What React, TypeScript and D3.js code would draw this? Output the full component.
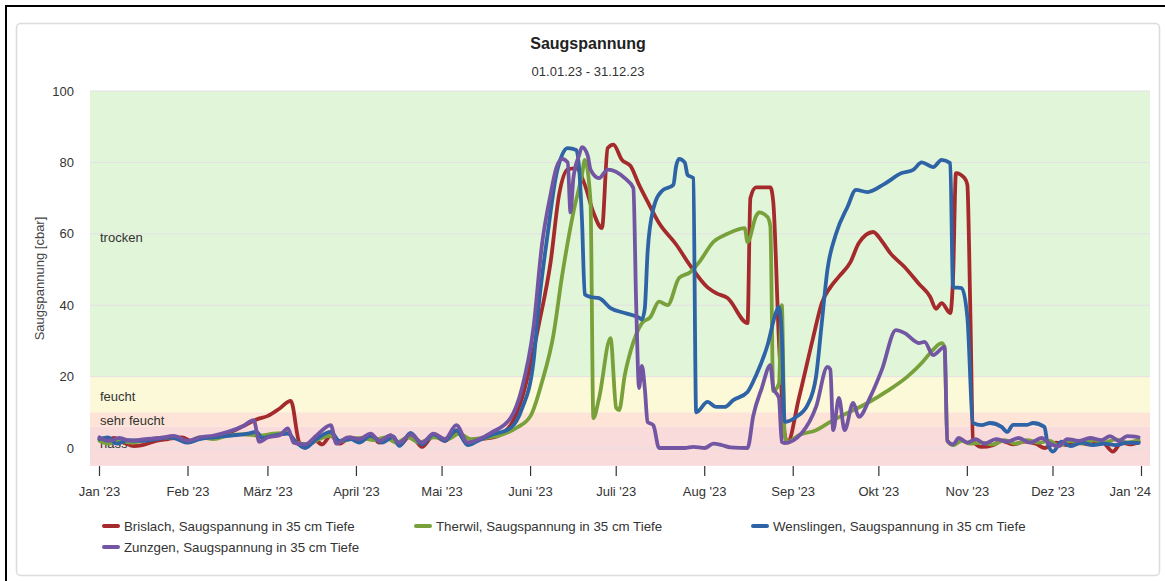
import React from "react";
import * as d3 from "d3";

type P = [string, number];

const title = "Saugspannung";
const subtitle = "01.01.23 - 31.12.23";
const yTitle = "Saugspannung [cbar]";
const yTicks = [0, 20, 40, 60, 80, 100];
const monthLabels = ["Jan '23", "Feb '23", "März '23", "April '23", "Mai '23", "Juni '23", "Juli '23", "Aug '23", "Sep '23", "Okt '23", "Nov '23", "Dez '23", "Jan '24"];

const bands = [
  { name: "trocken", from: 20, to: 100, color: "#e1f5d9", labelAt: 59 },
  { name: "feucht", from: 10, to: 20, color: "#fbf9d7", labelAt: 14.3 },
  { name: "sehr feucht", from: 6, to: 10, color: "#fde4d7", labelAt: 7.8 },
  { name: "nass", from: -5, to: 6, color: "#f9dbdb", labelAt: 1.3 },
];

const brislach: P[] = [
  ["2023-01-01", 2.5], ["2023-01-03", 2], ["2023-01-06", 2.8], ["2023-01-09", 1.8], ["2023-01-13", 0.5], ["2023-01-16", 0.8],
  ["2023-01-20", 1.8], ["2023-01-25", 2.5], ["2023-01-30", 3], ["2023-02-02", 2], ["2023-02-06", 2.8], ["2023-02-11", 3.2],
  ["2023-02-16", 4.5], ["2023-02-20", 6], ["2023-02-25", 8], ["2023-03-01", 9], ["2023-03-05", 11], ["2023-03-09", 13.2],
  ["2023-03-12", 1.5], ["2023-03-14", 0.3], ["2023-03-17", 2.5], ["2023-03-20", 1], ["2023-03-23", 3.5], ["2023-03-26", 1.2],
  ["2023-03-30", 3], ["2023-04-02", 2], ["2023-04-06", 3.5], ["2023-04-09", 1.5], ["2023-04-13", 3.5], ["2023-04-16", 0.8],
  ["2023-04-20", 3.5], ["2023-04-24", 0.3], ["2023-04-28", 3.5], ["2023-05-02", 2], ["2023-05-06", 4.5], ["2023-05-10", 1.5],
  ["2023-05-14", 2.5], ["2023-05-18", 2.8], ["2023-05-22", 4], ["2023-05-25", 6.4], ["2023-05-29", 14], ["2023-06-04", 35],
  ["2023-06-08", 52], ["2023-06-11", 71], ["2023-06-14", 78], ["2023-06-17", 78.4], ["2023-06-20", 73.7], ["2023-06-23", 66],
  ["2023-06-26", 61.6], ["2023-06-28", 84], ["2023-06-30", 85], ["2023-07-03", 80.7], ["2023-07-06", 79], ["2023-07-09", 73.7],
  ["2023-07-12", 69], ["2023-07-16", 63], ["2023-07-22", 57], ["2023-07-27", 51], ["2023-08-02", 45], ["2023-08-05", 43.4],
  ["2023-08-09", 42], ["2023-08-16", 35], ["2023-08-17", 70], ["2023-08-19", 73], ["2023-08-24", 73], ["2023-08-25", 69],
  ["2023-08-27", 30], ["2023-08-29", 4], ["2023-08-30", 1.5], ["2023-09-03", 14], ["2023-09-08", 31], ["2023-09-11", 40.6],
  ["2023-09-14", 45], ["2023-09-17", 48], ["2023-09-21", 52], ["2023-09-24", 57.4], ["2023-09-29", 60.5], ["2023-10-02", 58],
  ["2023-10-05", 54.6], ["2023-10-10", 50.7], ["2023-10-15", 46], ["2023-10-19", 42.3], ["2023-10-21", 39], ["2023-10-23", 40.6],
  ["2023-10-26", 37.8], ["2023-10-27", 48], ["2023-10-28", 77], ["2023-10-31", 75.6], ["2023-11-01", 73.7], ["2023-11-02", 40],
  ["2023-11-03", 2], ["2023-11-06", 0.3], ["2023-11-10", 0.8], ["2023-11-13", 2], ["2023-11-17", 1], ["2023-11-21", 1.8],
  ["2023-11-25", 1.2], ["2023-11-28", 0], ["2023-12-02", 1.5], ["2023-12-06", 0.8], ["2023-12-10", 1.5], ["2023-12-14", 1],
  ["2023-12-18", 1.8], ["2023-12-22", -1], ["2023-12-25", 1.5], ["2023-12-28", 1], ["2023-12-31", 1.7],
];

const therwil: P[] = [
  ["2023-01-01", 2], ["2023-01-04", 1.2], ["2023-01-08", 2], ["2023-01-12", 1.5], ["2023-01-17", 2.2], ["2023-01-22", 2.8],
  ["2023-01-27", 3], ["2023-02-01", 1.8], ["2023-02-05", 3], ["2023-02-10", 2.5], ["2023-02-15", 3.5], ["2023-02-20", 3.8],
  ["2023-02-26", 3.5], ["2023-03-03", 4], ["2023-03-08", 4.2], ["2023-03-11", 1.5], ["2023-03-15", 1], ["2023-03-19", 2.5],
  ["2023-03-23", 3.5], ["2023-03-26", 1.8], ["2023-03-30", 2.5], ["2023-04-03", 2.8], ["2023-04-07", 2.2], ["2023-04-11", 3],
  ["2023-04-15", 1.5], ["2023-04-19", 3], ["2023-04-23", 1.5], ["2023-04-28", 3], ["2023-05-03", 2.5], ["2023-05-07", 4],
  ["2023-05-11", 2.5], ["2023-05-16", 2.8], ["2023-05-21", 3.5], ["2023-05-27", 5.6], ["2023-06-01", 9], ["2023-06-05", 18.5],
  ["2023-06-09", 31.6], ["2023-06-12", 48], ["2023-06-16", 66], ["2023-06-19", 76.5], ["2023-06-20", 80.7], ["2023-06-22", 69],
  ["2023-06-23", 8.4], ["2023-06-25", 14], ["2023-06-29", 30.8], ["2023-07-01", 11.2], ["2023-07-02", 10.6], ["2023-07-04", 20.4],
  ["2023-07-06", 27], ["2023-07-10", 35], ["2023-07-13", 36.7], ["2023-07-16", 41], ["2023-07-19", 40], ["2023-07-23", 47.6],
  ["2023-07-27", 49.3], ["2023-07-30", 52], ["2023-08-04", 57.7], ["2023-08-09", 60], ["2023-08-15", 61.6], ["2023-08-16", 57.7],
  ["2023-08-19", 65], ["2023-08-20", 66], ["2023-08-23", 64.7], ["2023-08-24", 62], ["2023-08-25", 16], ["2023-08-27", 18],
  ["2023-08-28", 40], ["2023-08-29", 3.6], ["2023-08-30", 1.7], ["2023-09-03", 3.6], ["2023-09-09", 5], ["2023-09-15", 7.8],
  ["2023-09-20", 9.8], ["2023-09-27", 12.6], ["2023-10-04", 16], ["2023-10-11", 20], ["2023-10-16", 23.8], ["2023-10-19", 26.6],
  ["2023-10-23", 29.4], ["2023-10-24", 28.3], ["2023-10-25", 2], ["2023-10-27", 0.8], ["2023-10-30", 2], ["2023-11-02", 1.2],
  ["2023-11-06", 1.5], ["2023-11-10", 1], ["2023-11-14", 2.2], ["2023-11-18", 1.2], ["2023-11-22", 2.2], ["2023-11-26", 1.5],
  ["2023-11-30", 2], ["2023-12-03", 0.6], ["2023-12-07", 2], ["2023-12-11", 1.2], ["2023-12-15", 2.2], ["2023-12-19", 1.5],
  ["2023-12-23", 2.4], ["2023-12-27", 1.5], ["2023-12-31", 2.2],
];

const wenslingen: P[] = [
  ["2023-01-01", 2.5], ["2023-01-04", 3], ["2023-01-07", 1.2], ["2023-01-11", 2.2], ["2023-01-16", 2], ["2023-01-21", 2.5],
  ["2023-01-26", 3], ["2023-02-01", 1.5], ["2023-02-05", 2.5], ["2023-02-10", 3], ["2023-02-16", 3.5], ["2023-02-22", 4],
  ["2023-02-25", 4.5], ["2023-02-27", 2.8], ["2023-03-03", 3.5], ["2023-03-08", 4], ["2023-03-11", 1.5], ["2023-03-14", 0],
  ["2023-03-18", 2.5], ["2023-03-23", 4.5], ["2023-03-26", 2], ["2023-03-30", 2.5], ["2023-04-02", 1.5], ["2023-04-06", 3.5],
  ["2023-04-10", 1.5], ["2023-04-14", 3.2], ["2023-04-16", 0.6], ["2023-04-20", 4.2], ["2023-04-24", 1], ["2023-04-28", 3.8],
  ["2023-05-02", 2], ["2023-05-06", 5], ["2023-05-10", 0.8], ["2023-05-14", 2.2], ["2023-05-18", 3.6], ["2023-05-25", 5.6],
  ["2023-05-29", 11], ["2023-06-02", 24], ["2023-06-04", 41], ["2023-06-07", 60], ["2023-06-10", 76.5], ["2023-06-12", 82],
  ["2023-06-14", 84], ["2023-06-17", 83.5], ["2023-06-18", 78.4], ["2023-06-19", 64], ["2023-06-20", 43], ["2023-06-22", 42.3],
  ["2023-06-25", 42], ["2023-06-29", 39.2], ["2023-07-04", 37.8], ["2023-07-09", 36.5], ["2023-07-10", 36], ["2023-07-11", 39],
  ["2023-07-12", 55], ["2023-07-14", 67], ["2023-07-17", 72], ["2023-07-21", 73.7], ["2023-07-22", 79], ["2023-07-23", 81],
  ["2023-07-25", 80], ["2023-07-26", 76.5], ["2023-07-28", 75.6], ["2023-07-29", 10], ["2023-08-02", 12.9], ["2023-08-05", 11.5],
  ["2023-08-08", 11.5], ["2023-08-11", 13.4], ["2023-08-16", 15.7], ["2023-08-19", 20.4], ["2023-08-23", 28.8], ["2023-08-26", 38],
  ["2023-08-27", 39.5], ["2023-08-28", 31.6], ["2023-08-29", 7.3], ["2023-09-02", 8.7], ["2023-09-06", 12], ["2023-09-09", 20],
  ["2023-09-11", 35], ["2023-09-13", 50], ["2023-09-16", 60], ["2023-09-20", 67.5], ["2023-09-23", 72.3], ["2023-09-27", 71.7],
  ["2023-10-03", 74], ["2023-10-09", 77], ["2023-10-13", 77.9], ["2023-10-16", 80], ["2023-10-20", 78.7], ["2023-10-23", 80.7],
  ["2023-10-26", 79.8], ["2023-10-27", 45], ["2023-10-30", 44.8], ["2023-11-01", 36.7], ["2023-11-03", 7], ["2023-11-06", 6.4],
  ["2023-11-09", 7], ["2023-11-13", 5.9], ["2023-11-15", 4.5], ["2023-11-17", 6.5], ["2023-11-22", 6.5], ["2023-11-24", 7],
  ["2023-11-28", 5.9], ["2023-11-29", 1.7], ["2023-12-01", -1], ["2023-12-04", 1.8], ["2023-12-07", 0.5], ["2023-12-11", 1.5],
  ["2023-12-15", 0.8], ["2023-12-19", 1.2], ["2023-12-23", 0.8], ["2023-12-27", 1.5], ["2023-12-31", 1.4],
];

const zunzgen: P[] = [
  ["2023-01-01", 3], ["2023-01-04", 2], ["2023-01-08", 2.8], ["2023-01-12", 2], ["2023-01-17", 2.5], ["2023-01-22", 2.8],
  ["2023-01-27", 3.4], ["2023-02-01", 2], ["2023-02-05", 3], ["2023-02-10", 3.5], ["2023-02-15", 4.5], ["2023-02-20", 6],
  ["2023-02-24", 7.8], ["2023-02-26", 1.7], ["2023-03-01", 3], ["2023-03-05", 3.5], ["2023-03-08", 5.5], ["2023-03-10", 1.5],
  ["2023-03-14", 1], ["2023-03-18", 3.5], ["2023-03-23", 6.4], ["2023-03-25", 1.2], ["2023-03-29", 3], ["2023-04-02", 2.5],
  ["2023-04-06", 4], ["2023-04-09", 2], ["2023-04-13", 3.5], ["2023-04-16", 1.5], ["2023-04-20", 3.8], ["2023-04-24", 1.5],
  ["2023-04-28", 4], ["2023-05-02", 2.5], ["2023-05-06", 6.4], ["2023-05-10", 1.5], ["2023-05-14", 2.5], ["2023-05-18", 4.2],
  ["2023-05-25", 8.4], ["2023-05-29", 16.8], ["2023-06-02", 33.6], ["2023-06-05", 57], ["2023-06-08", 71], ["2023-06-10", 78.4],
  ["2023-06-12", 81], ["2023-06-14", 80], ["2023-06-15", 66], ["2023-06-16", 75.6], ["2023-06-18", 82], ["2023-06-19", 84.3],
  ["2023-06-21", 82], ["2023-06-22", 78], ["2023-06-25", 75.6], ["2023-06-28", 78], ["2023-07-04", 75.6], ["2023-07-07", 72.8],
  ["2023-07-08", 40], ["2023-07-09", 16.8], ["2023-07-10", 23], ["2023-07-11", 16.8], ["2023-07-12", 7.3], ["2023-07-14", 6.4],
  ["2023-07-16", 0], ["2023-07-25", 0], ["2023-07-28", 0.3], ["2023-08-01", 0], ["2023-08-04", 1.2], ["2023-08-07", 0.8],
  ["2023-08-10", 0.2], ["2023-08-16", 0], ["2023-08-18", 9], ["2023-08-21", 16.8], ["2023-08-24", 23.2], ["2023-08-25", 16.8],
  ["2023-08-27", 14], ["2023-08-28", 1.7], ["2023-08-29", 1.4], ["2023-09-04", 4.2], ["2023-09-09", 11.5], ["2023-09-13", 22.7],
  ["2023-09-14", 22], ["2023-09-15", 5], ["2023-09-17", 14], ["2023-09-19", 5], ["2023-09-22", 12.6], ["2023-09-24", 8.7],
  ["2023-09-28", 14.3], ["2023-10-02", 21.8], ["2023-10-07", 33], ["2023-10-10", 32.2], ["2023-10-15", 29.4], ["2023-10-17", 29.7],
  ["2023-10-20", 26], ["2023-10-24", 28.3], ["2023-10-25", 2], ["2023-10-27", 1], ["2023-10-29", 2.8], ["2023-11-01", 1.5],
  ["2023-11-04", 2.5], ["2023-11-07", 1.2], ["2023-11-11", 2.5], ["2023-11-15", 1.8], ["2023-11-19", 2.8], ["2023-11-23", 1.5],
  ["2023-11-27", 2.8], ["2023-11-30", 1.2], ["2023-12-03", 0.5], ["2023-12-06", 2.5], ["2023-12-10", 2], ["2023-12-14", 2.8],
  ["2023-12-18", 2.2], ["2023-12-21", 3.3], ["2023-12-24", 2], ["2023-12-27", 3.3], ["2023-12-31", 3],
];

const seriesNames = [
  "Brislach, Saugspannung in 35 cm Tiefe",
  "Therwil, Saugspannung in 35 cm Tiefe",
  "Wenslingen, Saugspannung in 35 cm Tiefe",
  "Zunzgen, Saugspannung in 35 cm Tiefe",
];
const seriesColors = ["#a52a2c", "#79a13b", "#2e63a6", "#7356a3"];
const seriesData = [brislach, therwil, wenslingen, zunzgen];

const W = 1165;
const H = 581;
const FONT = "'Liberation Sans', Arial, Helvetica, sans-serif";

export default function App() {
  const parse = d3.timeParse("%Y-%m-%d");
  const plotL = 90, plotR = 1150, plotT = 91, plotB = 466;
  const x = d3.scaleTime()
    .domain([parse("2023-01-01")!, parse("2024-01-01")!])
    .range([99.5, 1141.5]);
  const y = d3.scaleLinear().domain([0, 100]).range([448, 91]);
  const line = d3.line<P>()
    .x((d) => x(parse(d[0])!))
    .y((d) => y(d[1]))
    .curve(d3.curveMonotoneX);
  const months = d3.timeMonth.range(parse("2023-01-01")!, d3.timeDay.offset(parse("2024-01-01")!, 1));

  const legendPos = [
    { x: 102, y: 526 },
    { x: 414, y: 526 },
    { x: 751, y: 526 },
    { x: 102, y: 547 },
  ];

  return (
    <div style={{ position: "fixed", left: 0, top: 0 }}>
      <svg width={W} height={H} style={{ display: "block", fontFamily: FONT }}>
        <rect x={0} y={0} width={W} height={H} fill="#fff" />
        <rect x={6} y={6} width={W + 20} height={H + 20} fill="none" stroke="#000" strokeWidth={2} />
        <rect x={16.5} y={23.5} width={1143} height={552} rx={4} fill="#fff" stroke="#dcdcdc" strokeWidth={1.5} />
        <defs>
          <clipPath id="plotclip">
            <rect x={plotL} y={plotT - 5} width={plotR - plotL} height={plotB - plotT + 5} />
          </clipPath>
        </defs>
        {bands.map((b) => (
          <rect key={b.name} x={plotL} y={y(b.to)} width={plotR - plotL} height={y(b.from) - y(b.to)} fill={b.color} />
        ))}
        {yTicks.map((t) => (
          <line key={t} x1={plotL} x2={plotR} y1={y(t)} y2={y(t)} stroke="#e4e0e4" strokeWidth={1} />
        ))}
        {bands.map((b) => (
          <text key={b.name + "l"} x={100} y={y(b.labelAt)} dy="0.35em" fontSize={13} fill="#333">{b.name}</text>
        ))}
        <g clipPath="url(#plotclip)">
          {seriesData.map((s, i) => (
            <path key={i} d={line(s) || ""} fill="none" stroke={seriesColors[i]} strokeWidth={3.8}
              strokeLinejoin="round" strokeLinecap="round" />
          ))}
        </g>
        {yTicks.map((t) => (
          <text key={t} x={74} y={y(t)} dy="0.35em" textAnchor="end" fontSize={13} fill="#333">{t}</text>
        ))}
        <text transform={`translate(39,${(plotT + plotB) / 2}) rotate(-90)`} textAnchor="middle" dy="0.35em" fontSize={13} fill="#444">{yTitle}</text>
        {months.map((m, i) => {
          const mx = x(m);
          const last = i === months.length - 1;
          return (
            <g key={i}>
              <line x1={mx} x2={mx} y1={plotB} y2={plotB + 10} stroke="#333" strokeWidth={1.2} />
              <text x={last ? 1151 : mx} y={491} dy="0.35em" textAnchor={last ? "end" : "middle"} fontSize={13} fill="#333">{monthLabels[i]}</text>
            </g>
          );
        })}
        <text x={588} y={43} dy="0.35em" textAnchor="middle" fontSize={16} fontWeight="bold" fill="#222">{title}</text>
        <text x={588} y={71} dy="0.35em" textAnchor="middle" fontSize={13} fill="#333">{subtitle}</text>
        {seriesNames.map((n, i) => (
          <g key={n}>
            <line x1={legendPos[i].x + 2} x2={legendPos[i].x + 16} y1={legendPos[i].y} y2={legendPos[i].y}
              stroke={seriesColors[i]} strokeWidth={4} strokeLinecap="round" />
            <text x={legendPos[i].x + 22} y={legendPos[i].y} dy="0.35em" fontSize={13.3} fill="#333">{n}</text>
          </g>
        ))}
      </svg>
    </div>
  );
}
